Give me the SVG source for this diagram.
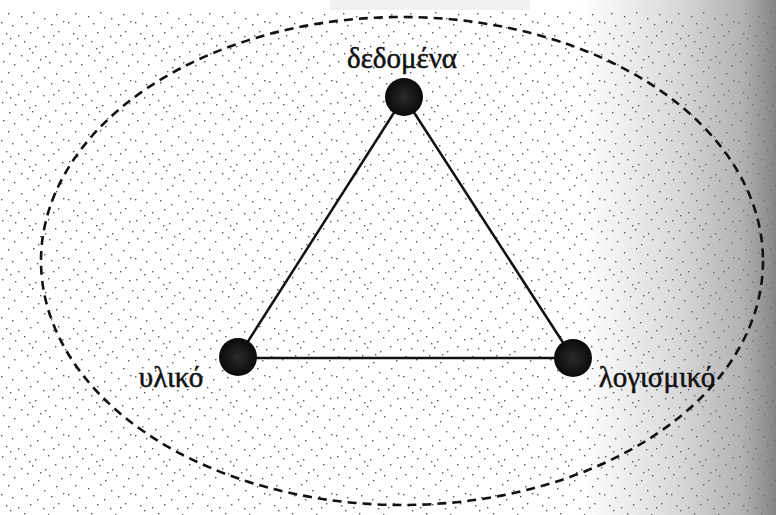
<svg xmlns="http://www.w3.org/2000/svg" width="776" height="515" viewBox="0 0 776 515">
  <style>
    .lbl { font-family: "Liberation Serif", "DejaVu Serif", serif; font-size: 29px; fill: #111; stroke: #111; stroke-width: 0.5; }
    .edge { stroke: #111; stroke-width: 2.5; fill: none; }
    .d { fill: #555; }
  </style>
  <defs>
    <pattern id="stip" width="67" height="59" patternUnits="userSpaceOnUse">
      <g class="d">
        <rect x="3" y="2" width="1.4" height="1.4"/>
        <rect x="14" y="5" width="1.4" height="1.4"/>
        <rect x="27" y="1" width="1.4" height="1.4"/>
        <rect x="38" y="8" width="1.4" height="1.4"/>
        <rect x="49" y="3" width="1.4" height="1.4"/>
        <rect x="61" y="6" width="1.4" height="1.4"/>
        <rect x="8" y="13" width="1.4" height="1.4"/>
        <rect x="21" y="16" width="1.4" height="1.4"/>
        <rect x="33" y="12" width="1.4" height="1.4"/>
        <rect x="44" y="18" width="1.4" height="1.4"/>
        <rect x="56" y="14" width="1.4" height="1.4"/>
        <rect x="1" y="22" width="1.4" height="1.4"/>
        <rect x="12" y="25" width="1.4" height="1.4"/>
        <rect x="26" y="23" width="1.4" height="1.4"/>
        <rect x="37" y="27" width="1.4" height="1.4"/>
        <rect x="51" y="24" width="1.4" height="1.4"/>
        <rect x="63" y="21" width="1.4" height="1.4"/>
        <rect x="6" y="33" width="1.4" height="1.4"/>
        <rect x="18" y="35" width="1.4" height="1.4"/>
        <rect x="30" y="32" width="1.4" height="1.4"/>
        <rect x="43" y="36" width="1.4" height="1.4"/>
        <rect x="58" y="31" width="1.4" height="1.4"/>
        <rect x="2" y="43" width="1.4" height="1.4"/>
        <rect x="15" y="45" width="1.4" height="1.4"/>
        <rect x="24" y="41" width="1.4" height="1.4"/>
        <rect x="35" y="46" width="1.4" height="1.4"/>
        <rect x="48" y="42" width="1.4" height="1.4"/>
        <rect x="62" y="44" width="1.4" height="1.4"/>
        <rect x="9" y="53" width="1.4" height="1.4"/>
        <rect x="21" y="55" width="1.4" height="1.4"/>
        <rect x="32" y="52" width="1.4" height="1.4"/>
        <rect x="45" y="56" width="1.4" height="1.4"/>
        <rect x="55" y="51" width="1.4" height="1.4"/>
        <rect x="65" y="54" width="1.4" height="1.4"/>
        <rect x="40" y="0" width="1.4" height="1.4"/>
        <rect x="53" y="35" width="1.4" height="1.4"/>
        <rect x="29" y="48" width="1.4" height="1.4"/>
        <rect x="10" y="38" width="1.4" height="1.4"/>
      </g>
    </pattern>
    <linearGradient id="shade" x1="0" y1="0" x2="1" y2="0">
      <stop offset="0" stop-color="#808080" stop-opacity="0"/>
      <stop offset="0.5" stop-color="#808080" stop-opacity="0.3"/>
      <stop offset="0.82" stop-color="#808080" stop-opacity="0.6"/>
      <stop offset="1" stop-color="#6e6e6e" stop-opacity="0.85"/>
    </linearGradient>
    <radialGradient id="nodeFill" cx="0.5" cy="0.5" r="0.5">
      <stop offset="0" stop-color="#2a2a2a"/>
      <stop offset="1" stop-color="#0a0a0a"/>
    </radialGradient>
  </defs>

  <rect x="0" y="0" width="776" height="515" fill="#ffffff"/>
  <rect x="0" y="10" width="776" height="505" fill="url(#stip)"/>
  <rect x="580" y="0" width="196" height="515" fill="url(#shade)"/>
  <rect x="330" y="0" width="200" height="10" fill="#f1f1f1"/>

  <ellipse cx="402" cy="261" rx="361" ry="244" fill="none" stroke="#111" stroke-width="2.6" stroke-dasharray="9 6"/>

  <g id="connectors">
    <line class="edge" x1="404" y1="97" x2="238" y2="357"/>
    <line class="edge" x1="404" y1="97" x2="573" y2="358"/>
    <line class="edge" x1="238" y1="358" x2="573" y2="358"/>
  </g>

  <g id="node-data">
    <circle cx="404" cy="97" r="19" fill="url(#nodeFill)"/>
    <text class="lbl" x="402" y="68" text-anchor="middle">δεδομένα</text>
  </g>
  <g id="node-hardware">
    <circle cx="238" cy="357" r="19" fill="url(#nodeFill)"/>
    <text class="lbl" x="171" y="387" text-anchor="middle">υλικό</text>
  </g>
  <g id="node-software">
    <circle cx="573" cy="358" r="19" fill="url(#nodeFill)"/>
    <text class="lbl" x="657" y="387" text-anchor="middle">λογισμικό</text>
  </g>
</svg>
